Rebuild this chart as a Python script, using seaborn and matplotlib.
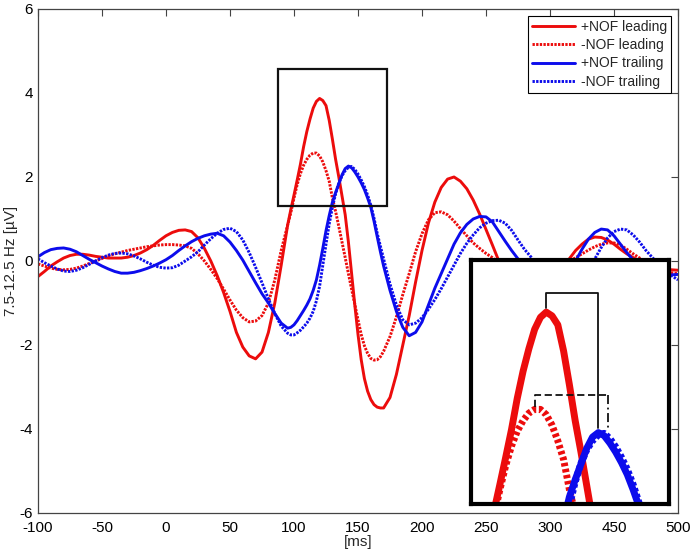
import matplotlib
matplotlib.use("Agg")
import numpy as np
import matplotlib.pyplot as plt
import seaborn as sns
from matplotlib.patches import Rectangle

# time axis (ms): 5 ms steps, 2.5 ms steps around the zoomed peaks
time_ms = np.concatenate([np.arange(-100, 95, 5),
                          np.arange(95, 170, 2.5),
                          np.arange(170, 401, 5)])

plus_leading = [
    # -100 .. 90
    -0.37, -0.25, -0.12, -0.02, 0.07, 0.13, 0.16, 0.16, 0.14, 0.11,
    0.09, 0.07, 0.07, 0.07, 0.09, 0.13, 0.19, 0.27, 0.37, 0.49,
    0.60, 0.68, 0.73, 0.74, 0.70, 0.55, 0.30, 0.00, -0.35, -0.75,
    -1.20, -1.70, -2.05, -2.26, -2.33, -2.17, -1.70, -1.00, -0.10,
    # 95 .. 167.5
    0.85, 1.22, 1.57, 1.93, 2.30, 2.72, 3.08, 3.38, 3.64, 3.80,
    3.87, 3.82, 3.70, 3.35, 2.90, 2.42, 2.00, 1.55, 1.10, 0.45,
    -0.30, -1.05, -1.75, -2.35, -2.80, -3.10, -3.30, -3.42, -3.48, -3.50,
    # 170 .. 400
    -3.50, -3.25, -2.70, -2.00, -1.30, -0.50, 0.25, 0.90, 1.40, 1.75,
    1.95, 2.00, 1.90, 1.72, 1.45, 1.12, 0.75, 0.38, 0.00, -0.35,
    -0.65, -0.90, -1.05, -1.10, -1.05, -0.90, -0.70, -0.45, -0.20, 0.05,
    0.25, 0.40, 0.52, 0.57, 0.56, 0.50, 0.40, 0.28, 0.17, 0.08,
    0.00, -0.06, -0.11, -0.16, -0.19, -0.21, -0.22,
]
minus_leading = [
    -0.07, -0.12, -0.17, -0.20, -0.21, -0.20, -0.17, -0.12, -0.06, 0.00,
    0.06, 0.12, 0.17, 0.21, 0.25, 0.28, 0.31, 0.34, 0.36, 0.38,
    0.39, 0.39, 0.38, 0.36, 0.30, 0.17, 0.00, -0.20, -0.42, -0.67,
    -0.93, -1.17, -1.35, -1.45, -1.43, -1.30, -1.00, -0.45, 0.25,
    0.85, 1.15, 1.50, 1.82, 2.08, 2.28, 2.42, 2.52, 2.57, 2.57,
    2.50, 2.36, 2.15, 1.90, 1.50, 1.18, 0.82, 0.45, 0.08, -0.30,
    -0.67, -1.03, -1.40, -1.75, -2.02, -2.20, -2.32, -2.36, -2.35, -2.28,
    -2.15, -1.80, -1.33, -0.80, -0.30, 0.22, 0.65, 0.98, 1.15, 1.17,
    1.10, 0.95, 0.77, 0.60, 0.43, 0.30, 0.18, 0.08, -0.05, -0.20,
    -0.35, -0.48, -0.57, -0.60, -0.57, -0.50, -0.40, -0.28, -0.15, -0.02,
    0.08, 0.17, 0.26, 0.34, 0.40, 0.43, 0.43, 0.38, 0.28, 0.17,
    0.07, -0.03, -0.12, -0.20, -0.25, -0.28, -0.30,
]
plus_trailing = [
    0.10, 0.20, 0.27, 0.30, 0.31, 0.28, 0.22, 0.13, 0.04, -0.04,
    -0.12, -0.19, -0.25, -0.29, -0.29, -0.27, -0.23, -0.18, -0.12, -0.05,
    0.03, 0.13, 0.25, 0.36, 0.46, 0.54, 0.60, 0.64, 0.66, 0.60,
    0.45, 0.25, 0.02, -0.25, -0.52, -0.78, -1.00, -1.25, -1.48,
    -1.60, -1.58, -1.52, -1.42, -1.30, -1.18, -1.05, -0.90, -0.70, -0.45,
    -0.10, 0.30, 0.72, 1.08, 1.40, 1.63, 1.84, 2.05, 2.20, 2.26,
    2.22, 2.12, 2.00, 1.86, 1.70, 1.50, 1.28, 0.95, 0.58, 0.22,
    -0.12, -0.70, -1.20, -1.58, -1.78, -1.70, -1.45, -1.05, -0.65, -0.30,
    0.05, 0.40, 0.67, 0.87, 1.00, 1.06, 1.05, 0.93, 0.70, 0.47,
    0.25, 0.05, -0.20, -0.50, -0.75, -0.88, -0.90, -0.80, -0.58, -0.28,
    0.00, 0.28, 0.52, 0.68, 0.76, 0.74, 0.60, 0.40, 0.20, 0.02,
    -0.12, -0.22, -0.28, -0.32, -0.34, -0.33, -0.32,
]
minus_trailing = [
    0.05, -0.04, -0.12, -0.19, -0.24, -0.25, -0.22, -0.16, -0.08, 0.00,
    0.08, 0.14, 0.18, 0.19, 0.17, 0.12, 0.05, -0.03, -0.10, -0.15,
    -0.17, -0.16, -0.10, 0.00, 0.10, 0.22, 0.38, 0.53, 0.66, 0.75,
    0.78, 0.70, 0.50, 0.20, -0.15, -0.52, -0.90, -1.25, -1.55,
    -1.72, -1.76, -1.76, -1.71, -1.65, -1.57, -1.48, -1.36, -1.20, -0.95,
    -0.60, -0.10, 0.40, 0.88, 1.28, 1.60, 1.85, 2.03, 2.15, 2.23,
    2.25, 2.18, 2.07, 1.93, 1.77, 1.57, 1.33, 1.02, 0.66, 0.35,
    0.05, -0.55, -1.05, -1.40, -1.52, -1.48, -1.35, -1.15, -0.92, -0.66,
    -0.38, -0.10, 0.18, 0.42, 0.62, 0.79, 0.90, 0.96, 0.97, 0.90,
    0.73, 0.50, 0.28, 0.10, -0.15, -0.45, -0.70, -0.85, -0.90, -0.85,
    -0.70, -0.48, -0.20, 0.05, 0.32, 0.55, 0.70, 0.76, 0.74, 0.62,
    0.45, 0.25, 0.08, -0.08, -0.22, -0.35, -0.45,
]

labels = ["+NOF leading", "-NOF leading", "+NOF trailing", "-NOF trailing"]
series = [plus_leading, minus_leading, plus_trailing, minus_trailing]
colors = ["#ec0c0c", "#ec0c0c", "#0c0cec", "#0c0cec"]

x_ticks = list(range(-100, 401, 50))
x_ticklabels = ["-100", "-50", "0", "50", "100", "150", "200", "250", "300", "450", "500"]
y_ticks = [-6, -4, -2, 0, 2, 4, 6]

# zoomed window shown in the inset
zoom_x = (87.5, 173.0)
zoom_y = (1.31, 4.57)

sns.set_style("white")
plt.rcParams["font.family"] = ["Liberation Sans", "DejaVu Sans"]
plt.rcParams["axes.unicode_minus"] = False

fig = plt.figure(figsize=(6.92, 5.52), dpi=100)
ax = fig.add_axes([0.0549, 0.0707, 0.9249, 0.913])

for vals, lab, col in zip(series, labels, colors):
    ls = "-" if lab.startswith("+") else (0, (0.8, 0.45))
    sns.lineplot(x=time_ms, y=vals, ax=ax, color=col, linestyle=ls,
                 linewidth=2.1, label=lab)

ax.set_xlim(-100, 400)
ax.set_ylim(-6, 6)
ax.set_xticks(x_ticks)
ax.set_xticklabels(x_ticklabels)
ax.set_yticks(y_ticks)
ax.tick_params(direction="in", top=True, right=True, length=5, width=0.8,
               color="#444444", labelsize=11, labelcolor="black")
ax.tick_params(axis="x", pad=6)
for sp in ax.spines.values():
    sp.set_color("#444444")
    sp.set_linewidth(0.9)
ax.set_xlabel("[ms]", fontsize=11, labelpad=0)
ax.set_ylabel("7.5-12.5 Hz [µV]", fontsize=11, labelpad=1)

leg = ax.legend(loc="upper right", fontsize=10, handlelength=3.1,
                fancybox=False, edgecolor="black", framealpha=1,
                borderaxespad=0.5, labelspacing=0.3, handletextpad=0.4,
                borderpad=0.3)
leg.get_frame().set_linewidth(0.8)

ax.add_patch(Rectangle((zoom_x[0], zoom_y[0]), zoom_x[1] - zoom_x[0],
                       zoom_y[1] - zoom_y[0], fill=False, lw=1.6,
                       ec="#111111", zorder=5))

# inset with the enlarged peaks
axin = fig.add_axes([0.6806, 0.0875, 0.2861, 0.4420], zorder=10)
axin.set_facecolor("white")
for vals, lab, col in zip(series, labels, colors):
    ls = "-" if lab.startswith("+") else (0, (0.5, 0.38))
    sns.lineplot(x=time_ms, y=vals, ax=axin, color=col, linestyle=ls,
                 linewidth=5, legend=False)
axin.set_xlim(*zoom_x)
axin.set_ylim(*zoom_y)
axin.set_xticks([])
axin.set_yticks([])
axin.set_xlabel("")
axin.set_ylabel("")
for sp in axin.spines.values():
    sp.set_color("black")
    sp.set_linewidth(3)

# brackets between leading and trailing peaks
pl = np.argmax(plus_leading)
pt = np.argmax(plus_trailing)
ml = np.argmax(minus_leading)
mt = np.argmax(minus_trailing)
top_solid = plus_leading[pl] + 0.26
axin.plot([time_ms[pl], time_ms[pl], time_ms[pt], time_ms[pt]],
          [plus_leading[pl] + 0.06, top_solid, top_solid, plus_trailing[pt] + 0.06],
          color="#111111", lw=1.3)
top_dash = minus_leading[ml] + 0.19
axin.plot([time_ms[ml], time_ms[ml], time_ms[mt] + 1.5],
          [minus_leading[ml] + 0.03, top_dash, top_dash],
          color="#111111", lw=1.3, linestyle=(0, (4, 2)))
axin.plot([time_ms[mt] + 1.5, time_ms[mt] + 1.5],
          [top_dash, minus_trailing[mt] + 0.06],
          color="#111111", lw=1.3, linestyle=(0, (5, 2, 1, 2)))

fig.savefig("out.png", dpi=100)
